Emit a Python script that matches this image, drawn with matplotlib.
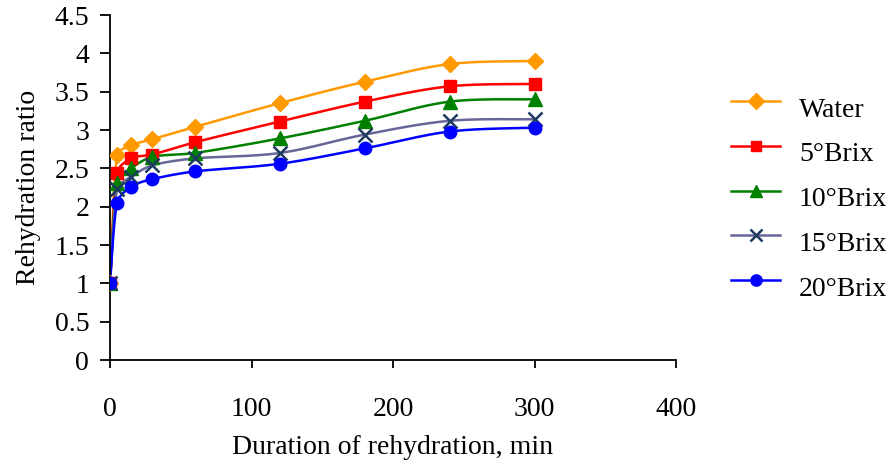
import numpy as np
import matplotlib
matplotlib.use("Agg")
import matplotlib.pyplot as plt

# Rehydration time points (min) and ratios per soaking medium
time_min = [0, 5, 15, 30, 60, 120, 180, 240, 300]
water = [1.00, 2.67, 2.80, 2.88, 3.04, 3.35, 3.63, 3.86, 3.90]
brix5 = [1.00, 2.44, 2.63, 2.68, 2.84, 3.11, 3.37, 3.57, 3.60]
brix10 = [1.00, 2.31, 2.50, 2.65, 2.70, 2.89, 3.12, 3.37, 3.40]
brix15 = [1.00, 2.23, 2.39, 2.54, 2.63, 2.70, 2.94, 3.12, 3.14]
brix20 = [1.00, 2.05, 2.26, 2.36, 2.46, 2.56, 2.76, 2.98, 3.03]
series_names = ["Water", "5°Brix", "10°Brix", "15°Brix", "20°Brix"]

plt.rcParams["font.family"] = ["Liberation Serif", "DejaVu Serif"]
FS = 20

fig = plt.figure(figsize=(8.92, 4.67), dpi=100)
ax = fig.add_axes([110 / 892, 1 - 360 / 467, 566 / 892, 345 / 467])

XMAX, YMAX = 400, 4.5
W_PX, H_PX = 566, 345


def smooth(xs, ys, n=30):
    """Bezier-smoothed curve through the points, computed in display-like units,
    with control arms limited to a third of each segment to avoid loops."""
    px = np.asarray(xs, float) / XMAX * W_PX
    py = np.asarray(ys, float) / YMAX * H_PX
    P = np.column_stack([px, py])
    P = np.vstack([P[0], P, P[-1]])
    out = []
    for i in range(1, len(P) - 2):
        p0, p1, p2, p3 = P[i - 1], P[i], P[i + 1], P[i + 2]
        seg_len = np.linalg.norm(p2 - p1)
        a1 = (p2 - p0) / 6
        a2 = (p3 - p1) / 6
        lim = seg_len / 3
        for a in (a1, a2):
            L = np.linalg.norm(a)
            if L > lim and L > 0:
                a *= lim / L
        c1 = p1 + a1
        c2 = p2 - a2
        t = np.linspace(0, 1, n)[:, None]
        seg = ((1 - t) ** 3) * p1 + 3 * ((1 - t) ** 2) * t * c1 + 3 * (1 - t) * t ** 2 * c2 + t ** 3 * p2
        out.append(seg if i == 1 else seg[1:])
    out = np.vstack(out)
    return out[:, 0] / W_PX * XMAX, out[:, 1] / H_PX * YMAX


styles = [
    dict(color="#FF9900", marker="D", mfc="#FF9900", mec="#FF9900", ms=8.5),
    dict(color="#FF0000", marker="s", mfc="#FF0000", mec="#FF0000", ms=8.5),
    dict(color="#008000", marker="^", mfc="#008000", mec="#008000", ms=10),
    dict(color="#666699", marker="x", mfc="#1F3A60", mec="#1F3A60", ms=9.5, mew=1.8),
    dict(color="#0000FF", marker="o", mfc="#0000FF", mec="#0000FF", ms=9),
]

for ys, name, st in zip([water, brix5, brix10, brix15, brix20], series_names, styles):
    sx, sy = smooth(time_min, ys)
    ax.plot(sx, sy, color=st["color"], lw=1.8, zorder=2)
    ax.plot(time_min, ys, ls="none", marker=st["marker"], ms=st["ms"],
            mfc=st["mfc"], mec=st["mec"], mew=st.get("mew", 1.0), zorder=3)
    ax.plot([], [], color=st["color"], lw=1.8, marker=st["marker"], ms=st["ms"] * 0.9,
            mfc=st["mfc"], mec=st["mec"], mew=st.get("mew", 1.0), label=name)

ax.set_xlim(0, XMAX)
ax.set_ylim(0, YMAX)
ax.set_xticks([0, 100, 200, 300, 400])
ax.set_yticks(np.arange(0, 4.51, 0.5))
ax.set_yticklabels(["0", "0.5", "1", "1.5", "2", "2.5", "3", "3.5", "4", "4.5"])
for s in ["top", "right"]:
    ax.spines[s].set_visible(False)
for s in ["left", "bottom"]:
    ax.spines[s].set_linewidth(1.3)
ax.tick_params(axis="x", direction="out", length=6, width=1.3, pad=21, labelsize=FS)
ax.tick_params(axis="y", direction="out", length=7, width=1.3, pad=8, labelsize=FS)
ax.set_xlabel("Duration of rehydration, min", fontsize=FS, labelpad=9)
ax.set_ylabel("Rehydration ratio", fontsize=FS, labelpad=10)

leg = ax.legend(loc="upper left", bbox_to_anchor=(720 / 892, 1 - 80 / 467),
                bbox_transform=fig.transFigure, frameon=False, fontsize=FS,
                handlelength=1.76, labelspacing=0.7, handletextpad=0.68, borderaxespad=0)
# labels sit slightly below their legend lines
for txt in leg.get_texts():
    txt.set_y(-6)

fig.savefig("out.png", dpi=100)
